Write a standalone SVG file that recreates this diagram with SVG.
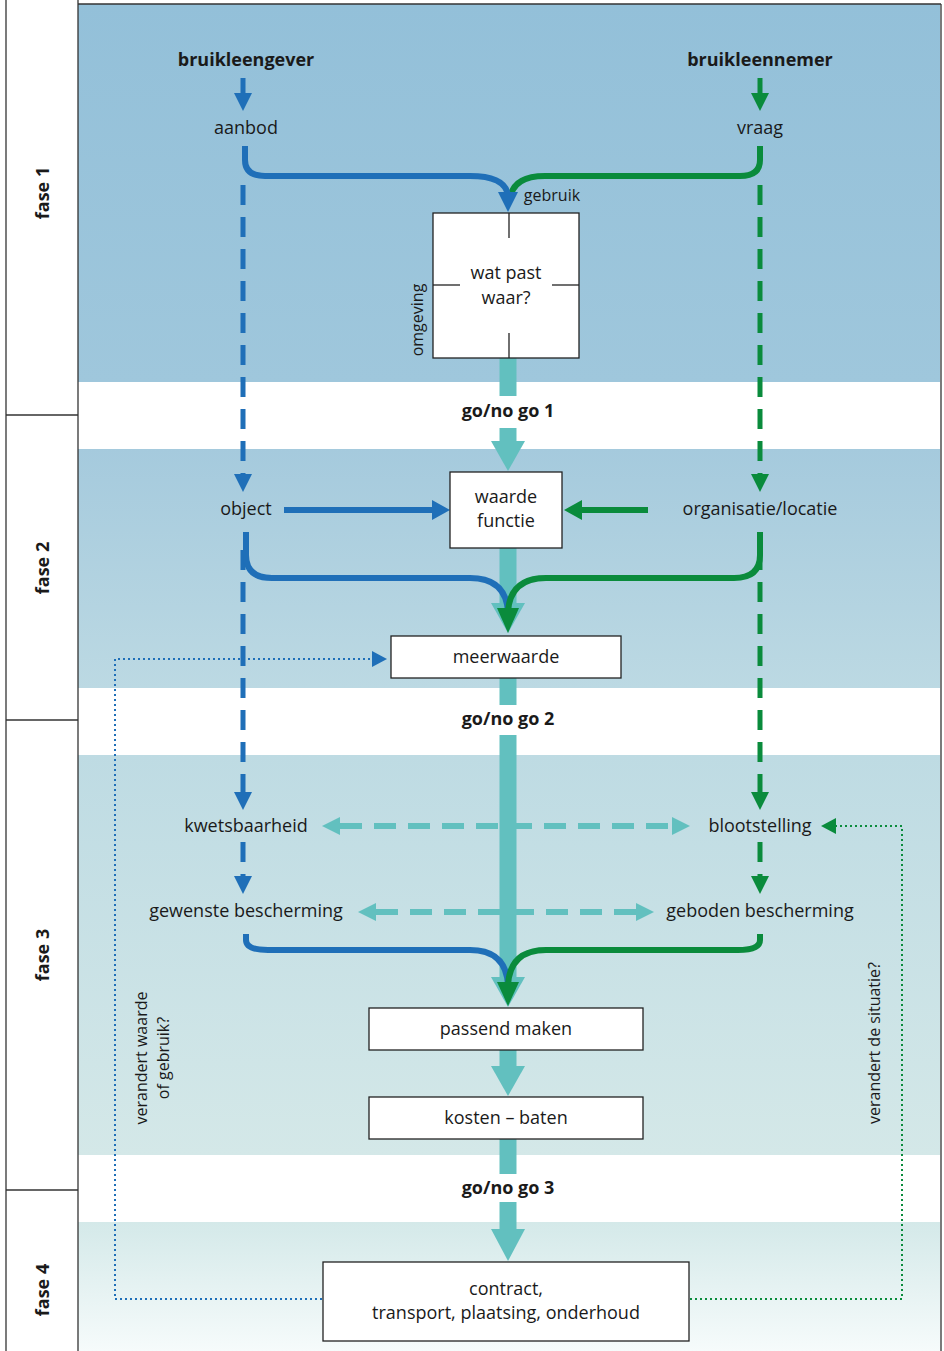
<svg xmlns="http://www.w3.org/2000/svg" width="944" height="1351" viewBox="0 0 944 1351">
<defs>
<linearGradient id="g1" x1="0" y1="0" x2="0" y2="1"><stop offset="0" stop-color="#93c0d9"/><stop offset="1" stop-color="#9fc7dc"/></linearGradient>
<linearGradient id="g2" x1="0" y1="0" x2="0" y2="1"><stop offset="0" stop-color="#a5cadd"/><stop offset="1" stop-color="#bcd9e3"/></linearGradient>
<linearGradient id="g3" x1="0" y1="0" x2="0" y2="1"><stop offset="0" stop-color="#bedbe3"/><stop offset="1" stop-color="#d4e8e8"/></linearGradient>
<linearGradient id="g4" x1="0" y1="0" x2="0" y2="1"><stop offset="0" stop-color="#d4e9e9"/><stop offset="1" stop-color="#f6fbfb"/></linearGradient>
<style>
.t{font-family:"Open Sans","Noto Sans",sans-serif;font-size:18px;fill:#1a1a1a;text-anchor:middle}
.b{font-weight:bold}
.s{font-family:"Open Sans","Noto Sans",sans-serif;font-size:16px;fill:#1a1a1a;text-anchor:middle}
.box{fill:#fff;stroke:#222;stroke-width:1.3}
.blue{stroke:#1f6fb8;fill:none}
.green{stroke:#0a8b3c;fill:none}
.teal{stroke:#62c0bf;fill:none}
.fb{fill:#1f6fb8}.fg{fill:#0a8b3c}.ft{fill:#62c0bf}
.frame{stroke:#333;stroke-width:1.3;fill:none}
</style>
</defs>
<rect width="944" height="1351" fill="#fff"/>
<g id="bands">
<rect x="78" y="4" width="862" height="378" fill="url(#g1)"/>
<rect x="78" y="449" width="862" height="239" fill="url(#g2)"/>
<rect x="78" y="755" width="862" height="400" fill="url(#g3)"/>
<rect x="78" y="1222" width="862" height="129" fill="url(#g4)"/>
</g>
<g id="frame">
<line class="frame" x1="78" y1="4" x2="941" y2="4"/>
<line class="frame" x1="941" y1="4" x2="941" y2="1351"/>
<line class="frame" x1="6" y1="0" x2="6" y2="1351"/>
<line class="frame" x1="78" y1="0" x2="78" y2="1351"/>
<line class="frame" x1="6" y1="415" x2="78" y2="415"/>
<line class="frame" x1="6" y1="720" x2="78" y2="720"/>
<line class="frame" x1="6" y1="1190" x2="78" y2="1190"/>
</g>
<g id="phases">
<text class="t b" transform="translate(49,193) rotate(-90)">fase 1</text>
<text class="t b" transform="translate(49,568) rotate(-90)">fase 2</text>
<text class="t b" transform="translate(49,955) rotate(-90)">fase 3</text>
<text class="t b" transform="translate(49,1290) rotate(-90)">fase 4</text>
</g>
<g id="connectors">
<line class="teal" x1="508" y1="358" x2="508" y2="396" stroke-width="17"/>
<line class="teal" x1="508" y1="428" x2="508" y2="443" stroke-width="17"/>
<polygon class="ft" points="491,441 525,441 508,471"/>
<line class="teal" x1="508" y1="548" x2="508" y2="606" stroke-width="17"/>
<polygon class="ft" points="491,603 525,603 508,633"/>
<line class="teal" x1="508" y1="678" x2="508" y2="705" stroke-width="17"/>
<line class="teal" x1="508" y1="735" x2="508" y2="980" stroke-width="17"/>
<polygon class="ft" points="491,977 525,977 508,1007"/>
<line class="teal" x1="508" y1="1050" x2="508" y2="1070" stroke-width="17"/>
<polygon class="ft" points="491,1066 525,1066 508,1096"/>
<line class="teal" x1="508" y1="1139" x2="508" y2="1174" stroke-width="17"/>
<line class="teal" x1="508" y1="1202" x2="508" y2="1232" stroke-width="17"/>
<polygon class="ft" points="491,1229 525,1229 508,1261"/>
<line class="blue" x1="243" y1="78" x2="243" y2="96" stroke-width="5"/>
<polygon class="fb" points="234,93 252,93 243,111"/>
<line class="green" x1="760" y1="78" x2="760" y2="96" stroke-width="5"/>
<polygon class="fg" points="751,93 769,93 760,111"/>
<path class="green" d="M760,146 V160 Q760,176 740,176 H545 Q512,176 510,200" stroke-width="6"/>
<path class="blue" d="M245,146 V160 Q245,176 265,176 H470 Q506,176 508,196" stroke-width="6"/>
<polygon class="fb" points="498,192 518,192 508,212"/>
<line class="blue" x1="243" y1="185" x2="243" y2="474" stroke-width="5" stroke-dasharray="20 12"/>
<polygon class="fb" points="234,474 252,474 243,492"/>
<line class="green" x1="760" y1="185" x2="760" y2="474" stroke-width="5" stroke-dasharray="20 12"/>
<polygon class="fg" points="751,474 769,474 760,492"/>
<line class="blue" x1="243" y1="550" x2="243" y2="792" stroke-width="5" stroke-dasharray="20 12"/>
<polygon class="fb" points="234,792 252,792 243,810"/>
<line class="green" x1="760" y1="550" x2="760" y2="792" stroke-width="5" stroke-dasharray="20 12"/>
<polygon class="fg" points="751,792 769,792 760,810"/>
<line class="blue" x1="243" y1="842" x2="243" y2="878" stroke-width="5" stroke-dasharray="20 12"/>
<polygon class="fb" points="234,876 252,876 243,894"/>
<line class="green" x1="760" y1="842" x2="760" y2="878" stroke-width="5" stroke-dasharray="20 12"/>
<polygon class="fg" points="751,876 769,876 760,894"/>
<line class="blue" x1="284" y1="510" x2="436" y2="510" stroke-width="6"/>
<polygon class="fb" points="432,500 432,520 450,510"/>
<line class="green" x1="648" y1="510" x2="578" y2="510" stroke-width="6"/>
<polygon class="fg" points="582,500 582,520 564,510"/>
<path class="blue" d="M246,532 V555 Q246,578 272,578 H470 Q506,578 508,612" stroke-width="6"/>
<path class="green" d="M760,532 V555 Q760,578 734,578 H546 Q510,578 508,612" stroke-width="6"/>
<polygon class="fg" points="497,608 519,608 508,633"/>
<line class="teal" x1="340" y1="826" x2="674" y2="826" stroke-width="6" stroke-dasharray="22 12"/>
<polygon class="ft" points="322,826 340,817 340,835"/>
<polygon class="ft" points="690,826 672,817 672,835"/>
<line class="teal" x1="376" y1="912" x2="638" y2="912" stroke-width="6" stroke-dasharray="22 12"/>
<polygon class="ft" points="358,912 376,903 376,921"/>
<polygon class="ft" points="654,912 636,903 636,921"/>
<path class="blue" d="M246,934 V940 Q246,950 268,950 H470 Q506,950 508,985" stroke-width="6"/>
<path class="green" d="M760,934 V940 Q760,950 738,950 H546 Q510,950 508,985" stroke-width="6"/>
<polygon class="fg" points="497,982 519,982 508,1006"/>
<polyline fill="none" stroke="#1f6fb8" stroke-width="2" stroke-dasharray="2 3" points="322,1299 115,1299 115,659 372,659"/>
<polygon class="fb" points="372,651 372,667 387,659"/>
<polyline fill="none" stroke="#0a8b3c" stroke-width="2" stroke-dasharray="2 3" points="690,1299 902,1299 902,826 836,826"/>
<polygon class="fg" points="836,818 836,834 821,826"/>
</g>
<g id="n-bruikleengever"><text class="t b" x="246" y="66">bruikleengever</text></g>
<g id="n-bruikleennemer"><text class="t b" x="760" y="66">bruikleennemer</text></g>
<g id="n-aanbod"><text class="t" x="246" y="134">aanbod</text></g>
<g id="n-vraag"><text class="t" x="760" y="134">vraag</text></g>
<g id="n-gebruik"><text class="s" x="552" y="201">gebruik</text></g>
<g id="n-watpast">
<rect class="box" x="433" y="213" width="146" height="145"/>
<line stroke="#222" stroke-width="1.3" x1="509" y1="213" x2="509" y2="238"/>
<line stroke="#222" stroke-width="1.3" x1="509" y1="333" x2="509" y2="358"/>
<line stroke="#222" stroke-width="1.3" x1="433" y1="285" x2="460" y2="285"/>
<line stroke="#222" stroke-width="1.3" x1="552" y1="285" x2="579" y2="285"/>
<text class="t" x="506" y="279">wat past</text>
<text class="t" x="506" y="304">waar?</text>
<text class="s" transform="translate(423,320) rotate(-90)">omgeving</text>
</g>
<g id="n-go1"><text class="t b" x="508" y="417">go/no go 1</text></g>
<g id="n-object"><text class="t" x="246" y="515">object</text></g>
<g id="n-organisatie"><text class="t" x="760" y="515">organisatie/locatie</text></g>
<g id="n-waarde">
<rect class="box" x="450" y="472" width="112" height="76"/>
<text class="t" x="506" y="503">waarde</text>
<text class="t" x="506" y="527">functie</text>
</g>
<g id="n-meerwaarde">
<rect class="box" x="391" y="636" width="230" height="42"/>
<text class="t" x="506" y="663">meerwaarde</text>
</g>
<g id="n-go2"><text class="t b" x="508" y="725">go/no go 2</text></g>
<g id="n-kwetsbaarheid"><text class="t" x="246" y="832">kwetsbaarheid</text></g>
<g id="n-blootstelling"><text class="t" x="760" y="832">blootstelling</text></g>
<g id="n-gewenste"><text class="t" x="246" y="917">gewenste bescherming</text></g>
<g id="n-geboden"><text class="t" x="760" y="917">geboden bescherming</text></g>
<g id="n-passend">
<rect class="box" x="369" y="1008" width="274" height="42"/>
<text class="t" x="506" y="1035">passend maken</text>
</g>
<g id="n-kosten">
<rect class="box" x="369" y="1097" width="274" height="42"/>
<text class="t" x="506" y="1124">kosten – baten</text>
</g>
<g id="n-go3"><text class="t b" x="508" y="1194">go/no go 3</text></g>
<g id="n-contract">
<rect class="box" x="323" y="1262" width="366" height="79"/>
<text class="t" x="506" y="1295">contract,</text>
<text class="t" x="506" y="1319">transport, plaatsing, onderhoud</text>
</g>
<g id="n-verandertwaarde">
<text class="s" transform="translate(147,1058) rotate(-90)">verandert waarde</text>
<text class="s" transform="translate(169,1058) rotate(-90)">of gebruik?</text>
</g>
<g id="n-verandertsituatie"><text class="s" transform="translate(880,1043) rotate(-90)">verandert de situatie?</text></g>
</svg>
